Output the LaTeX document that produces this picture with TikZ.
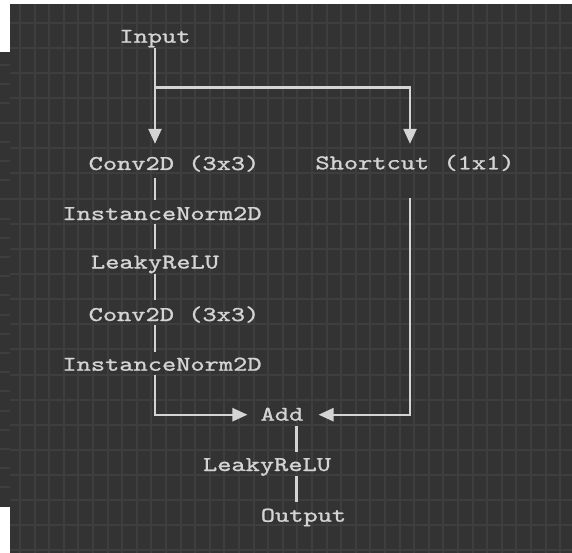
\documentclass[tikz,border=0pt]{standalone}
\usepackage{fontspec}
\usepackage{graphicx}
\usetikzlibrary{arrows.meta}
\newfontfamily\codefont[FakeBold=1.0]{lmmono10-regular.otf}
\definecolor{bgdark}{HTML}{333333}
\definecolor{gridc}{HTML}{3E3E3E}
\definecolor{fg}{HTML}{D4D4D4}
\newcommand{\wtxt}[1]{\scalebox{1.29}[1]{#1}}
\tikzset{
  lbl/.style={anchor=base, text=fg, font=\fontsize{21}{21}\selectfont\codefont,
    text height=12pt, text depth=0pt, inner sep=0pt},
  ln/.style={draw=fg, line width=2.4pt},
  arr/.style={ln, -{Triangle[length=15pt,width=13pt]}},
}
\begin{document}
\begin{tikzpicture}[x=1pt,y=-1pt]
\useasboundingbox (0,0) rectangle (572,553);
% background
\fill[white] (0,0) rectangle (572,553);
\fill[bgdark] (10,4) rectangle (572,553);
\fill[bgdark] (0,52) rectangle (10,507);
\foreach \k in {0,...,37} {\draw[gridc, line width=2pt] ({20+14.6*\k},4) -- ({20+14.6*\k},553);}
\foreach \k in {0,...,21} {\draw[gridc, line width=2pt] (10,{22.7+25.13*\k}) -- (572,{22.7+25.13*\k});}
\foreach \k in {0,...,22} {\draw[gridc, line width=2pt] (0,{65+19.2*\k}) -- (10,{65+19.2*\k});}
% columns
\coordinate (colL) at (155,0);
\coordinate (colR) at (410,0);
\coordinate (colB) at (296.5,0);
\coordinate (split) at (155,87.7);
% nodes
\node[lbl] (inp)   at (155,42.7)  {\wtxt{Input}};
\node[lbl] (conv1) at (174,170)   {\wtxt{Conv2D (3x3)}};
\node[lbl] (sc)    at (415,169.3) {\wtxt{Shortcut (1x1)}};
\node[lbl] (norm1) at (162,220)   {\wtxt{InstanceNorm2D}};
\node[lbl] (relu1) at (155,268.5) {\wtxt{LeakyReLU}};
\node[lbl] (conv2) at (174,321)   {\wtxt{Conv2D (3x3)}};
\node[lbl] (norm2) at (162,370.7) {\wtxt{InstanceNorm2D}};
\node[lbl] (add)   at (282,420.7) {\wtxt{Add}};
\node[lbl] (relu2) at (267,471)   {\wtxt{LeakyReLU}};
\node[lbl] (out)   at (303.5,521.7) {\wtxt{Output}};
% connectors
\draw[arr, shorten <=5.6pt, shorten >=14pt] (inp.south) -- (colL |- conv1.north);
\draw[arr, shorten >=13.3pt] (split) -| (colR |- sc.north);
\draw[ln, shorten <=8pt, shorten >=8pt] (colL |- conv1.south) -- (colL |- norm1.north);
\draw[ln, shorten <=3.3pt, shorten >=7pt] (colL |- norm1.south) -- (colL |- relu1.north);
\draw[ln, shorten <=5pt, shorten >=9pt] (colL |- relu1.south) -- (colL |- conv2.north);
\draw[ln, shorten <=4pt, shorten >=7pt] (colL |- conv2.south) -- (colL |- norm2.north);
\draw[arr, shorten <=4.3pt, shorten >=13pt] (colL |- norm2.south) |- (add.west);
\draw[arr, shorten <=29pt, shorten >=15pt] (colR |- sc.south) |- (add.east);
\draw[ln, shorten <=5pt, shorten >=6.5pt] (colB |- add.south) -- (colB |- relu2.north);
\draw[ln, shorten <=5pt, shorten >=8pt] (colB |- relu2.south) -- (colB |- out.north);
\end{tikzpicture}
\end{document}
